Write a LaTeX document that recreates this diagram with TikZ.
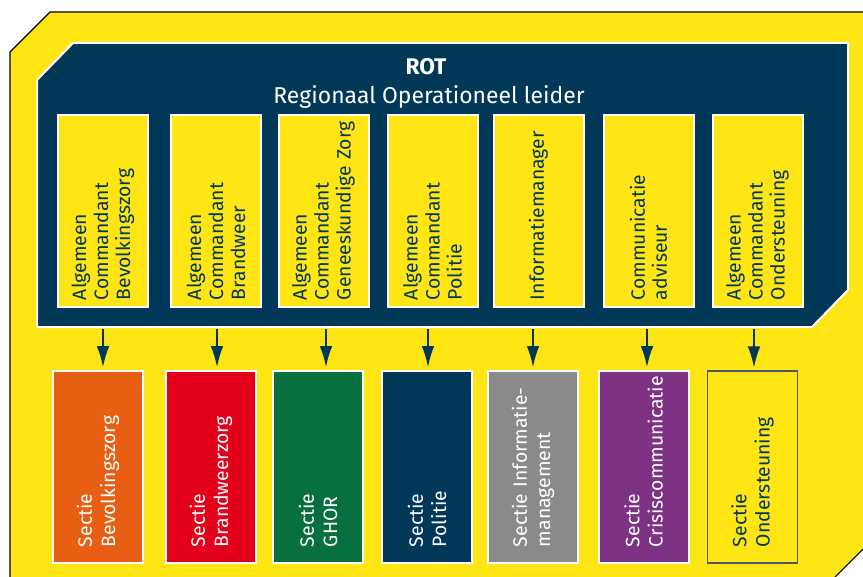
\documentclass[tikz,border=0pt]{standalone}
\usepackage{fontspec}
\setmainfont{Fira Sans}
\usetikzlibrary{arrows.meta}
\definecolor{rotblue}{RGB}{1,56,88}
\definecolor{rotyellow}{RGB}{255,229,20}
\definecolor{secorange}{RGB}{232,94,18}
\definecolor{secred}{RGB}{226,0,26}
\definecolor{secgreen}{RGB}{8,112,62}
\definecolor{secgrey}{RGB}{138,138,138}
\definecolor{secpurple}{RGB}{126,50,131}
\definecolor{secedge}{RGB}{72,92,102}

\begin{document}
\begin{tikzpicture}[
		x=0.75pt, y=-0.75pt,
		Commander/.style={draw=white, line width=1.5pt, fill=rotyellow, text=rotblue,
			rotate=90, minimum height=67.5pt, text width=133.5pt, inner xsep=5.25pt,
			align=left, font=\fontsize{14.5}{16.5}\selectfont},
		Section/.style={draw=white, line width=1.5pt, text=white,
			rotate=90, minimum height=67.5pt, text width=120pt, inner xsep=12pt,
			align=left, font=\fontsize{14.5}{17.5}\selectfont},
		Arrow/.style={-{Latex[length=16pt, width=9.5pt]}, draw=rotblue, line width=1.5pt, shorten >=2pt}
		]
		
		\useasboundingbox (0,0) rectangle (863,577);
		
		% yellow frame, cut off by the page
		\begin{scope}
		\clip (0,0) rectangle (863,577);
		\draw[fill=rotyellow, draw=black, line width=0.8pt] (10,52) -- (50,12) -- (900,12) -- (900,512) -- (812,600) -- (10,600) -- cycle;
		\end{scope}
		
		% ROT block
		\draw[fill=rotblue, draw=white, line width=1.5pt] (37,80) -- (73,43) -- (848,43) -- (848,290) -- (812,327) -- (37,327) -- cycle;
		\node[text=white, font=\bfseries\fontsize{17}{20}\selectfont] (rot) at (426,67) {ROT};
		\node[text=white, font=\fontsize{17.2}{20}\selectfont] (leader) at (429,97) {Regionaal Operationeel leider};
		
		% commanders in the ROT
		\foreach \i/\cx/\txt in {1/103/{Algemeen\\Commandant\\Bevolkingszorg},
				2/216/{Algemeen\\Commandant\\Brandweer},
				3/323.5/{Algemeen\\Commandant\\\mbox{Geneeskundige Zorg}},
				4/432.5/{Algemeen\\Commandant\\Politie},
				5/538.5/{Informatiemanager},
				6/648.5/{Communicatie\\adviseur},
				7/757.5/{Algemeen\\Commandant\\Ondersteuning}}
		\node[Commander] (cmd\i) at (\cx,211) {\txt};
		
		% sections below
		\foreach \i/\sx/\col/\txt in {1/98/secorange/{Sectie\\Bevolkingszorg},
				2/211/secred/{Sectie\\Brandweerzorg},
				3/318/secgreen/{Sectie\\GHOR},
				4/427/rotblue/{Sectie\\Politie},
				5/533/secgrey/{Sectie Informatie-\\management},
				6/643.5/secpurple/{Sectie\\Crisiscommunicatie}}
		\node[Section, fill=\col] (sec\i) at (\sx,467) {\txt};
		
		\node[Section, fill=rotyellow, draw=secedge, line width=0.9pt, text=rotblue] (sec7) at (752.5,467) {Sectie\\Ondersteuning};
		
		% arrows from the ROT to the sections
		\foreach \i/\ax in {1/103, 2/217, 3/326, 4/428, 5/533, 6/647, 7/754}{
			\coordinate (a\i) at (\ax,329);
			\draw[Arrow] (a\i) -- (a\i |- sec\i.east);
		}
		
\end{tikzpicture}
\end{document}
